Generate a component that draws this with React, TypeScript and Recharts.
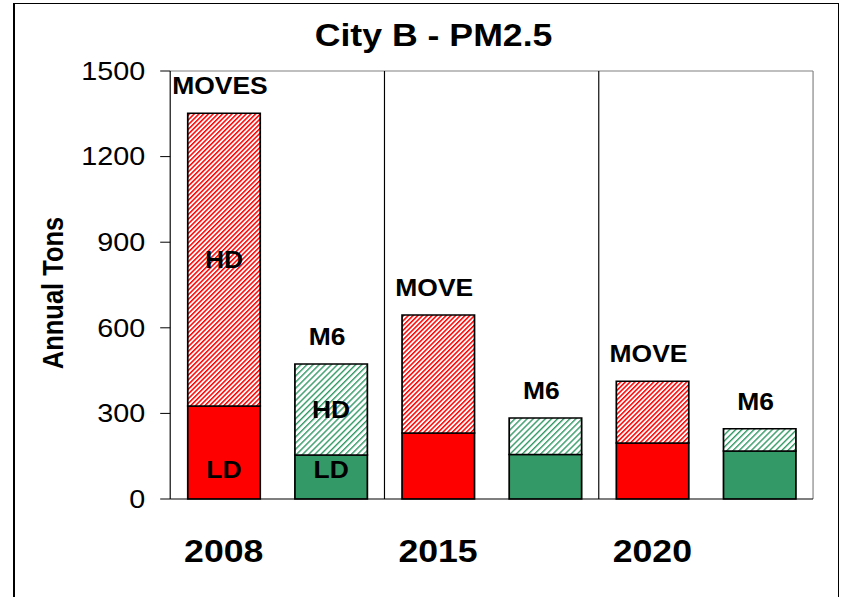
import React from 'react';
import { BarChart, Bar, XAxis, YAxis, Cell, LabelList, ReferenceLine, Label } from 'recharts';

const categories = ['2008 MOVES', '2008 M6', '2015 MOVES', '2015 M6', '2020 MOVES', '2020 M6'];
const yearTicks = ['2008', '', '2015', '', '2020', ''];
const models = ['MOVES', 'M6', 'MOVES', 'M6', 'MOVES', 'M6'];
const ldValues = [326, 154, 231, 156, 196, 168];
const hdValues = [1026, 319, 414, 128, 217, 78];
const topLabels = ['MOVES', 'M6', 'MOVE', 'M6', 'MOVE', 'M6'];
const hdLabels = ['HD', 'HD', '', '', '', ''];
const ldLabels = ['LD', 'LD', '', '', '', ''];
const yTicks = [0, 300, 600, 900, 1200, 1500];
const separatorAfter = ['2008 M6', '2015 M6'];
const lastCategory = '2020 M6';

const RED = '#FF0000';
const GREEN = '#339966';
const FONT = '"Liberation Sans", Arial, sans-serif';
const SX = 1.15;

const data = categories.map((name, i) => ({
  name,
  model: models[i],
  ld: ldValues[i],
  hd: hdValues[i],
  top: topLabels[i],
  hdLabel: hdLabels[i],
  ldLabel: ldLabels[i],
}));

const TopLabel = (props: any) => {
  const { x, y, width, value } = props;
  if (!value) return null;
  return (
    <text
      x={Number(x) + Number(width) / 2 - 3.5}
      y={Number(y) - 19}
      textAnchor="middle"
      fontSize={23}
      fontWeight="bold"
      fill="#000"
      fontFamily={FONT}
    >
      {value}
    </text>
  );
};

const YearTick = (props: any) => {
  const { x, y, payload } = props;
  const idx = categories.indexOf(payload.value);
  const label = yearTicks[idx] || '';
  if (!label) return null;
  return (
    <text x={x} y={y} dy="0.71em" textAnchor="middle" fontSize={31} fontWeight="bold" fill="#000" fontFamily={FONT}>
      {label}
    </text>
  );
};

export default function App() {
  return (
    <div style={{ position: 'absolute', left: 0, top: 0, width: 843, height: 597, overflow: 'hidden', background: '#fff', fontFamily: FONT }}>
      <div
        style={{
          position: 'absolute',
          left: 13,
          top: 3,
          width: 826,
          height: 640,
          boxSizing: 'border-box',
          borderLeft: '2px solid #000',
          borderTop: '1px solid #000',
          borderRight: '1px solid #000',
        }}
      />
      <div style={{ position: 'absolute', left: 0, top: 0, width: 733, height: 597, transform: `scaleX(${SX})`, transformOrigin: '0 0' }}>
        <div
          style={{
            position: 'absolute',
            left: 0,
            top: 18,
            width: 754,
            textAlign: 'center',
            fontSize: 31,
            fontWeight: 'bold',
            fontFamily: FONT,
            lineHeight: 'normal',
            color: '#000',
          }}
        >
          City B - PM2.5
        </div>
        <BarChart
          width={733}
          height={597}
          data={data}
          margin={{ top: 71, right: 26, bottom: 28, left: 68 }}
          barCategoryGap="16.4%"
          style={{ position: 'absolute', left: 0, top: 0 }}
        >
          <defs>
            <pattern id="hatchRed" patternUnits="userSpaceOnUse" width={3.1} height={3.1} patternTransform="rotate(41)">
              <rect x={0} y={0} width={3.1} height={3.1} fill="#fff" />
              <rect x={0} y={0} width={1.4} height={3.1} fill={RED} />
            </pattern>
            <pattern id="hatchGreen" patternUnits="userSpaceOnUse" width={4} height={4} patternTransform="rotate(41)">
              <rect x={0} y={0} width={4} height={4} fill="#fff" />
              <rect x={0} y={0} width={1.3} height={4} fill={GREEN} />
            </pattern>
          </defs>
          <XAxis
            dataKey="name"
            interval={0}
            height={70}
            tickLine={false}
            tickSize={0}
            tickMargin={41}
            axisLine={{ stroke: '#000', strokeWidth: 1 }}
            tick={<YearTick />}
          />
          <YAxis
            width={80}
            domain={[0, 1500]}
            ticks={yTicks}
            interval={0}
            tickSize={8.7}
            tickMargin={13}
            axisLine={{ stroke: '#000', strokeWidth: 1 }}
            tickLine={{ stroke: '#000', strokeWidth: 1 }}
            tick={{ fontSize: 25, fill: '#000', fontFamily: FONT }}
          >
            <Label
              content={() => (
                <text
                  x={46}
                  y={293}
                  transform="rotate(-90, 46, 293)"
                  textAnchor="middle"
                  dominantBaseline="central"
                  fontSize={25.5}
                  fontWeight="bold"
                  fill="#000"
                  fontFamily={FONT}
                >
                  Annual Tons
                </text>
              )}
            />
          </YAxis>
          <ReferenceLine y={1500} stroke="#808080" strokeWidth={1} />
          <ReferenceLine x={lastCategory} position="end" stroke="#808080" strokeWidth={1} />
          {separatorAfter.map((s) => (
            <ReferenceLine key={s} x={s} position="end" stroke="#000" strokeWidth={1} />
          ))}
          <Bar dataKey="ld" stackId="a" stroke="#000" strokeWidth={1.5} isAnimationActive={false}>
            {data.map((d, i) => (
              <Cell key={i} fill={d.model === 'MOVES' ? RED : GREEN} />
            ))}
            <LabelList
              dataKey="ldLabel"
              position="insideBottom"
              offset={21}
              fill="#000"
              stroke="none"
              fontSize={23}
              fontWeight="bold"
              fontFamily={FONT}
            />
          </Bar>
          <Bar dataKey="hd" stackId="a" stroke="#000" strokeWidth={1.5} isAnimationActive={false}>
            {data.map((d, i) => (
              <Cell key={i} fill={d.model === 'MOVES' ? 'url(#hatchRed)' : 'url(#hatchGreen)'} />
            ))}
            <LabelList
              dataKey="hdLabel"
              position="center"
              fill="#000"
              stroke="none"
              fontSize={23}
              fontWeight="bold"
              fontFamily={FONT}
            />
            <LabelList dataKey="top" content={<TopLabel />} />
          </Bar>
        </BarChart>
      </div>
    </div>
  );
}
